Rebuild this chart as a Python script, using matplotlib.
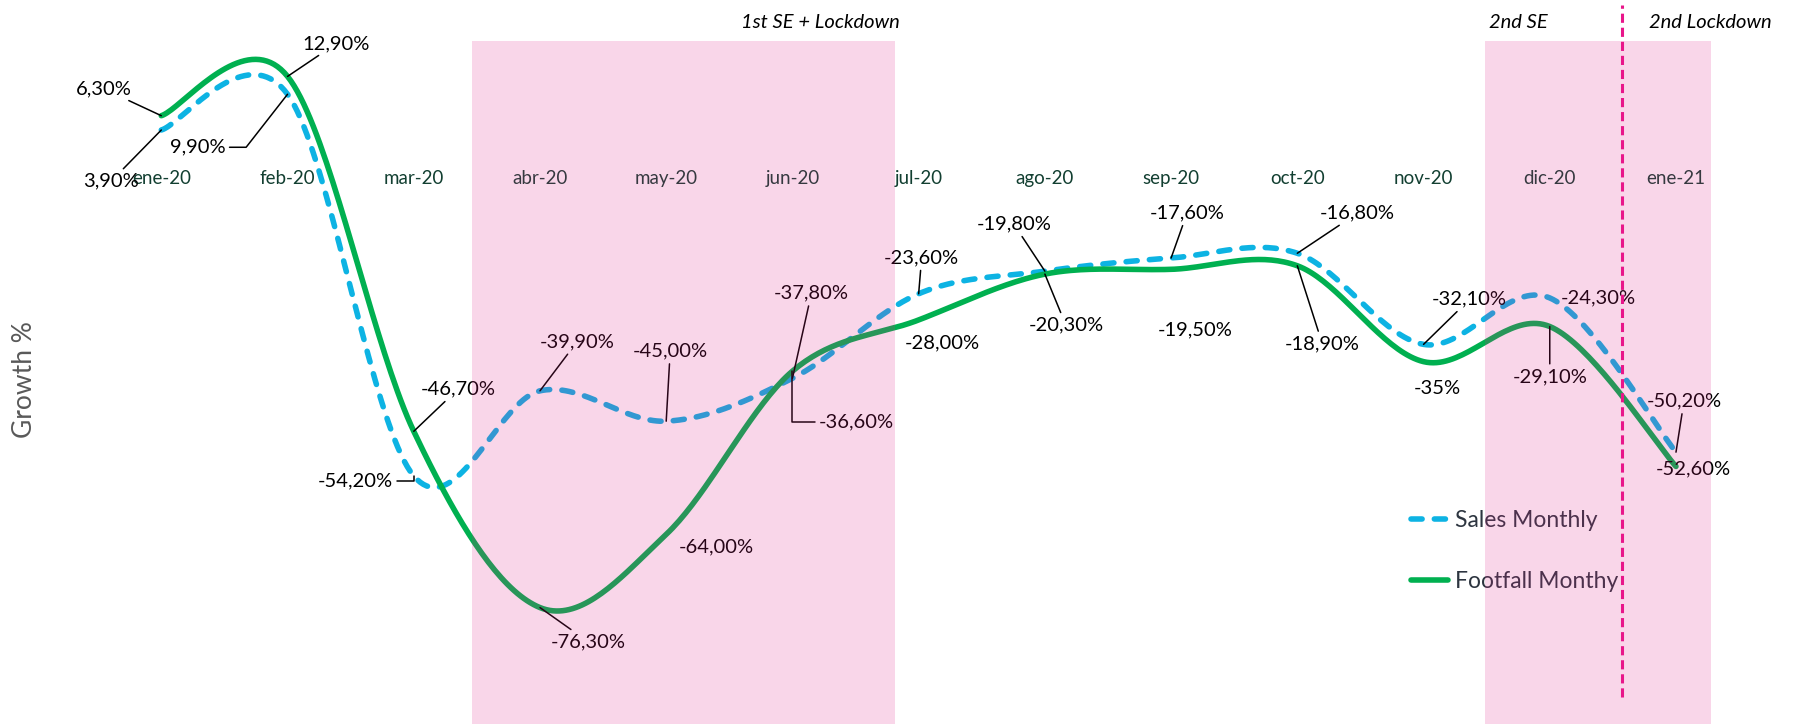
import numpy as np
import matplotlib
matplotlib.use("Agg")
import matplotlib.pyplot as plt

plt.rcParams['font.family'] = ['Lato', 'DejaVu Sans']

months = ['ene-20', 'feb-20', 'mar-20', 'abr-20', 'may-20', 'jun-20', 'jul-20',
          'ago-20', 'sep-20', 'oct-20', 'nov-20', 'dic-20', 'ene-21']
sales = [3.9, 9.9, -54.2, -39.9, -45.0, -37.8, -23.6, -19.8, -17.6, -16.8, -32.1, -24.3, -50.2]
footfall = [6.3, 12.9, -46.7, -76.3, -64.0, -36.6, -28.0, -20.3, -19.5, -18.9, -35.0, -29.1, -52.6]
sales_labels = ['3,90%', '9,90%', '-54,20%', '-39,90%', '-45,00%', '-37,80%', '-23,60%',
                '-19,80%', '-17,60%', '-16,80%', '-32,10%', '-24,30%', '-50,20%']
foot_labels = ['6,30%', '12,90%', '-46,70%', '-76,30%', '-64,00%', '-36,60%', '-28,00%',
               '-20,30%', '-19,50%', '-18,90%', '-35%', '-29,10%', '-52,60%']
# shaded periods (in month-index units) and their captions
periods = [(2.46, 5.81), (10.49, 12.28)]
period_names = ['1st SE + Lockdown', '2nd SE', '2nd Lockdown']
lockdown_start = 11.57

# label placement: (dx px, dy px, leader)
sales_pos = [(-50, -51, 'line'), (-90, -53, 'angle52'), (-58, -5, 'angle90'), (37, 49, 'line'),
             (4, 70, 'line'), (19, 85, 'line'), (3, 36, 'line'), (-31, 47, 'line'),
             (16, 45, 'line'), (60, 40, 'line'), (46, 45, 'line'), (49, 0, None), (8, 51, 'line')]
foot_pos = [(-58, 27, 'line'), (49, 33, 'line'), (44, 42, 'line'), (48, -34, 'line'),
            (50, -13, None), (64, -51, 'angle90'), (24, -23, None), (21, -51, 'line'),
            (24, -61, None), (25, -78, 'line'), (14, -27, None), (0, -50, 'line'), (17, -2, None)]

SALES_C = '#0DB3E3'
FOOT_C = '#00B050'
PINK = '#DE2187'


def smooth(xs, ys, n=40):
    # Excel-style smoothed line (Catmull-Rom as cubic Bezier)
    pts = np.column_stack([xs, ys]).astype(float)
    ext = np.vstack([pts[0], pts, pts[-1]])
    t = np.linspace(0, 1, n)[:, None]
    out = []
    for k in range(len(pts) - 1):
        p0, p1, p2, p3 = ext[k], ext[k + 1], ext[k + 2], ext[k + 3]
        c1 = p1 + (p2 - p0) / 6
        c2 = p2 - (p3 - p1) / 6
        seg = (1 - t) ** 3 * p1 + 3 * (1 - t) ** 2 * t * c1 + 3 * (1 - t) * t ** 2 * c2 + t ** 3 * p2
        out.append(seg if k == 0 else seg[1:])
    return np.vstack(out)


fig = plt.figure(figsize=(18.06, 7.24), dpi=100)
ax = fig.add_axes([0, 0, 1, 1])
ax.set_xlim(-1.278, 13.03)
ax.set_ylim(-95.85, 25.73)
ax.axis('off')

x = np.arange(len(months))
s = smooth(x, sales)
f = smooth(x, footfall)
ax.plot(s[:, 0], s[:, 1], color=SALES_C, lw=4, dashes=(2.0, 2.2),
        dash_capstyle='round', label='Sales Monthly', zorder=3)
ax.plot(f[:, 0], f[:, 1], color=FOOT_C, lw=4, solid_capstyle='round',
        label='Footfall Monthy', zorder=3)

for i, m in enumerate(months):
    ax.text(i, -4.25, m, ha='center', va='center', fontsize=13.5, color='#123F31', zorder=4)


def label(xi, yv, txt, pos):
    dx, dy, kind = pos
    props = None
    if kind == 'line':
        props = dict(arrowstyle='-', color='black', lw=1.1, shrinkA=1, shrinkB=0)
    elif kind is not None:
        ang = int(kind[5:])
        props = dict(arrowstyle='-', color='black', lw=1.1, shrinkA=1, shrinkB=0,
                     connectionstyle='angle,angleA=0,angleB=%d,rad=0' % ang)
    ax.annotate(txt, (xi, yv), xytext=(dx, dy), textcoords='offset pixels',
                ha='center', va='center', fontsize=14.5, color='black',
                arrowprops=props, zorder=4)


for i in range(len(months)):
    label(i, sales[i], sales_labels[i], sales_pos[i])
    label(i, footfall[i], foot_labels[i], foot_pos[i])

for a, b in periods:
    ax.fill_between([a, b], -100, 18.8, color=PINK, alpha=0.18, lw=0, zorder=6)
ax.plot([lockdown_start, lockdown_start], [-91.3, 24.9], color='#E8168A', lw=2.2,
        dashes=(3, 1.6), zorder=7)

ax.text(5.22, 22.0, period_names[0], ha='center', va='center', fontsize=14.5, style='italic')
ax.text(10.75, 22.0, period_names[1], ha='center', va='center', fontsize=14.5, style='italic')
ax.text(12.27, 22.0, period_names[2], ha='center', va='center', fontsize=14.5, style='italic')

fig.text(25 / 1806, 1 - 380 / 724, 'Growth %', rotation=90, ha='center', va='center',
         fontsize=19, color='#595959')

leg = ax.legend(loc='upper left', bbox_to_anchor=(1411 / 1806, 1 - 510 / 724), frameon=False,
                fontsize=16.5, handlelength=1.6, handletextpad=0.3, labelspacing=1.75,
                borderpad=0, borderaxespad=0)
for t in leg.get_texts():
    t.set_color('#2D3540')
leg.set_zorder(5)

fig.savefig('out.png', dpi=100)
